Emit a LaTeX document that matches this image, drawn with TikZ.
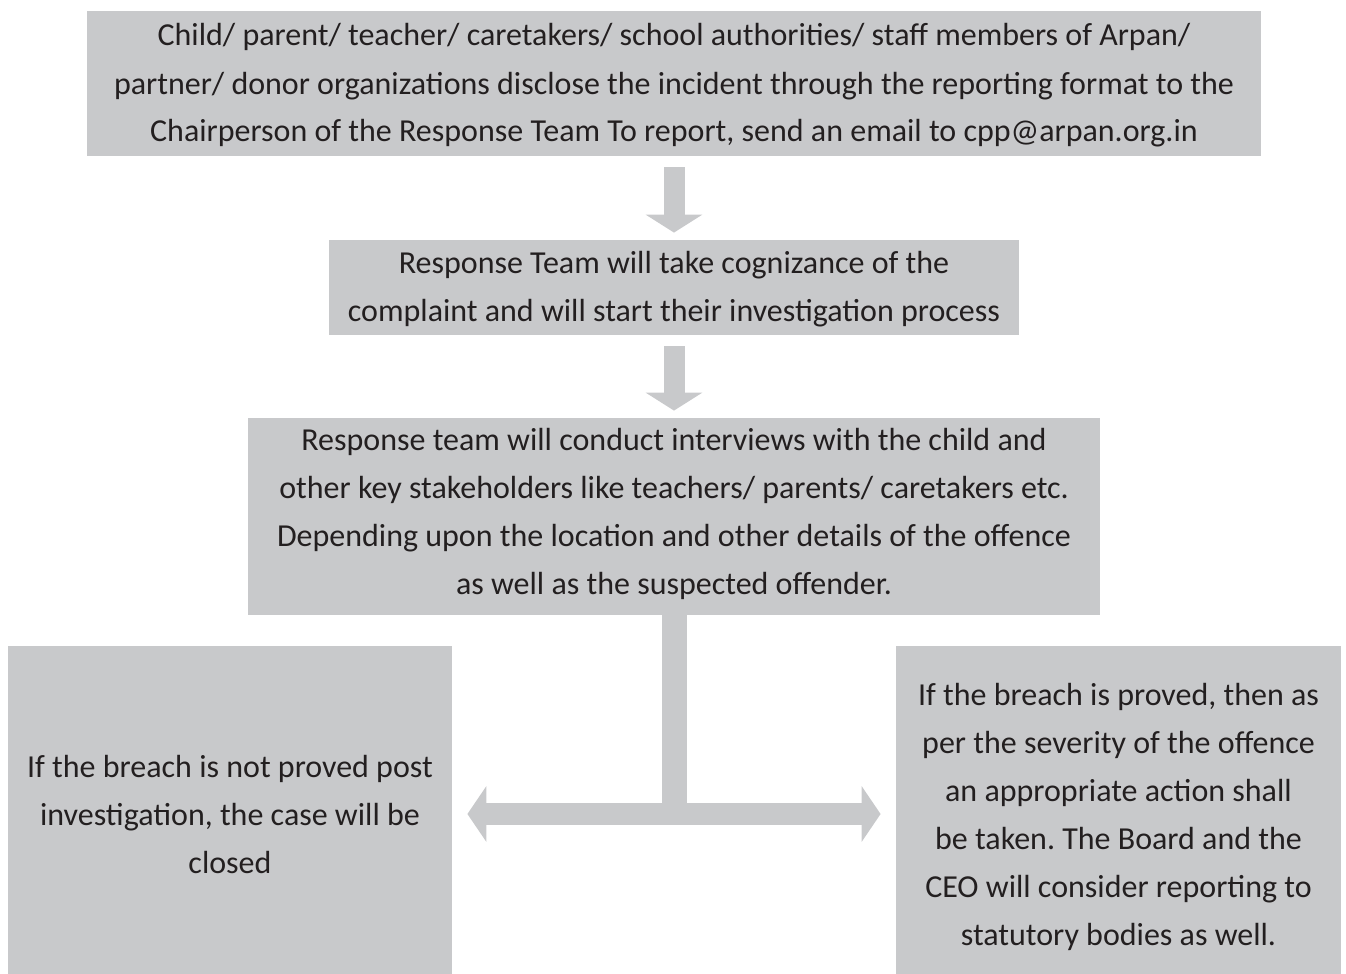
\documentclass[tikz,border=0pt]{standalone}
\usepackage{fontspec}
\setmainfont{Carlito}
\usetikzlibrary{arrows.meta}
\frenchspacing

\definecolor{boxgray}{RGB}{200,201,203}
\definecolor{inkdark}{RGB}{35,31,32}

% invisible struts that set where the lines sit in a box
\newcommand{\topgap}[1]{\rule{0pt}{#1}}
\newcommand{\botgap}{\rule[-6pt]{0pt}{6pt}}

\tikzset{
  every box/.style={fill=boxgray, text=inkdark, inner sep=0pt, align=center,
    font={\fontsize{16pt}{24pt}\selectfont}},
  down arrow/.style={draw=boxgray, line width=10.5pt,
    -{Triangle[width=28pt,length=9pt]}, shorten <=5.5pt, shorten >=3.5pt},
  stem/.style={draw=boxgray, line width=12.5pt},
  side arrow/.style={draw=boxgray, line width=11pt,
    -{Triangle[width=27.5pt,length=9.5pt]}, shorten >=7.5pt}
}

\begin{document}
\begin{tikzpicture}[x=0.5pt, y=-0.5pt]

\useasboundingbox (0,0) rectangle (1346,974);

\node [every box, minimum width=587pt, minimum height=72.5pt] (step-1) at (674,83.5)
  {\topgap{16.5pt}Child/ parent/ teacher/ caretakers/ school authorities/ staff members of Arpan/\\
   partner/ donor organizations disclose the incident through the reporting format to the\\
   Chairperson of the Response Team To report, send an email to cpp@arpan.org.in\botgap};
\node [every box, minimum width=345pt, minimum height=47.5pt] (step-2) at (674,287.5)
  {\topgap{16pt}Response Team will take cognizance of the\\
   complaint and will start their investigation process\botgap};
\node [every box, minimum width=426pt, minimum height=98.5pt] (step-3) at (674,516.5)
  {\topgap{12pt}Response team will conduct interviews with the child and\\
   other key stakeholders like teachers/ parents/ caretakers etc.\\
   Depending upon the location and other details of the offence\\
   as well as the suspected offender.\botgap};
\node [every box, minimum width=222pt, minimum height=164pt] (result-no) at (230,810)
  {\topgap{21pt}If the breach is not proved post\\
   investigation, the case will be\\
   closed\botgap};
\node [every box, minimum width=222.5pt, minimum height=164pt] (result-yes) at (1118.5,810)
  {\topgap{21pt}If the breach is proved, then as\\
   per the severity of the offence\\
   an appropriate action shall\\
   be taken. The Board and the\\
   CEO will consider reporting to\\
   statutory bodies as well.\botgap};

\foreach \a/\b in {1/2, 2/3}
  \draw [down arrow] (step-\a) -- (step-\b);

\coordinate (split) at (674,814);
\draw [stem] (step-3.south) -- (split);
\draw [side arrow] (split) -- (split -| result-no.east);
\draw [side arrow] (split) -- (split -| result-yes.west);

\end{tikzpicture}
\end{document}
